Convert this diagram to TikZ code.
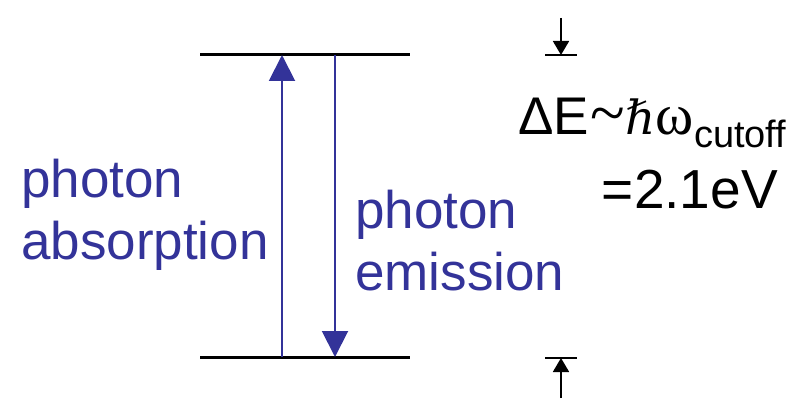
\documentclass[tikz,border=0pt]{standalone}
\usepackage{fontspec}
\setmainfont{Liberation Sans}
\newfontfamily\greekserif{Liberation Serif}
\newfontfamily\planckfont{DejaVu Serif}
\usetikzlibrary{arrows.meta}
\definecolor{photonBlue}{HTML}{333399}

\begin{document}
\begin{tikzpicture}[
  x=1pt, y=-1pt,
  lvl/.style={draw=black, line width=3pt},
  trans/.style={draw=photonBlue, line width=2pt,
                -{Triangle[width=26pt, length=26pt]}},
  gapmark/.style={draw=black, line width=1.8pt,
                  -{Triangle[width=16pt, length=14pt]}},
  bar/.style={draw=black, line width=1.8pt},
  blue lbl/.style={font=\fontsize{53}{62}\selectfont, text=photonBlue,
                   inner sep=0pt, align=left},
  gap lbl/.style={font=\fontsize{53}{73}\selectfont, text=black,
                  inner sep=0pt},
]
\useasboundingbox (0,0) rectangle (801,404);

% ============================== the two levels ==============================
\coordinate (upL) at (200,55);
\coordinate (upR) at (410,55);
\coordinate (loL) at (200,357);
\coordinate (loR) at (410,357);
\draw[lvl] (upL) -- (upR);
\draw[lvl] (loL) -- (loR);

% up for absorption, down for emission
\coordinate (absFoot) at (282,357);
\coordinate (absTip)  at (282,55);
\coordinate (emiFoot) at (335,55);
\coordinate (emiTip)  at (335,357);
\draw[trans] (absFoot) -- (absTip);
\draw[trans] (emiFoot) -- (emiTip);

% base sits on the last line
\node[blue lbl, anchor=base west] (absLbl) at (21,259) {photon\\absorption};
\node[blue lbl, anchor=base west] (emiLbl) at (355,290) {photon\\emission};

% ============================== the gap ======================================
\coordinate (gapTopIn)  at (561,18);
\coordinate (gapTop)    at (561,55);
\coordinate (gapBotIn)  at (561,398);
\coordinate (gapBot)    at (561,358);
\draw[gapmark] (gapTopIn) -- (gapTop);
\draw[gapmark] (gapBotIn) -- (gapBot);
\draw[bar] (545,55) -- (577,55);
\draw[bar] (545,358) -- (577,358);

\node[gap lbl, anchor=base west] (gapLbl) at (518,135)
  {ΔE\kern2pt{\greekserif\fontsize{64}{64}\selectfont\textasciitilde}{\planckfont\itshape\fontsize{47}{47}\selectfont ℏ}{\greekserif\fontsize{58}{58}\selectfont ω}\raisebox{-13pt}{\fontsize{38}{38}\selectfont cutoff}};
\node[gap lbl, anchor=base east, font=\fontsize{55}{73}\selectfont] (gapVal) at (778,208) {=2.1eV};
\end{tikzpicture}
\end{document}
